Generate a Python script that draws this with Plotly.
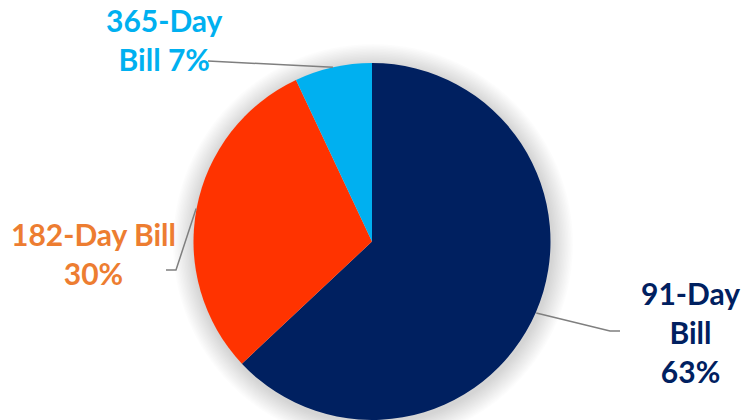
import math
import plotly.graph_objects as go

# ---- data ----
labels = ["91-Day Bill", "182-Day Bill", "365-Day Bill"]
values = [63, 30, 7]
slice_colors = ["#002060", "#FF3300", "#00B0F0"]
label_colors = ["#002060", "#ED7D31", "#00B0F0"]
label_lines = [["91-Day", "Bill"], ["182-Day Bill"], ["365-Day", "Bill"]]

W, H = 756, 420
cx, cy, R = 372, 242, 179  # pie centre/radius in pixels (layout)

fig = go.Figure()
fig.add_trace(go.Pie(
    labels=labels, values=values, sort=False, direction="clockwise", rotation=0,
    marker=dict(colors=slice_colors, line=dict(width=0)),
    textinfo="none", hoverinfo="label+percent", showlegend=False,
    domain=dict(x=[(cx - R) / W, (cx + R) / W], y=[max(0, (H - cy - R) / H), (H - cy + R) / H]),
))

def px(x):
    return x / W

def py(y):
    return 1 - y / H

shapes = []
# soft shadow around the pie
for i in range(14, 0, -1):
    r = R + i * 1.5
    shapes.append(dict(type="circle", xref="paper", yref="paper", layer="below",
                       x0=px(cx - r + 1), x1=px(cx + r + 1), y0=py(cy + r + 2), y1=py(cy - r + 2),
                       fillcolor="rgba(0,0,0,0.012)", line=dict(width=0)))

# label placement (layout): text centre, elbow point, text end of leader
label_pos = [(690, 332), (93, 253), (164, 39)]
elbows = [[(610, 331), (620, 331)], [(176, 270), (166, 270)], [(208, 61)]]

total = sum(values)
cum = 0
annotations = []
for i, v in enumerate(values):
    mid = (cum + v / 2) / total * 2 * math.pi
    cum += v
    ex = cx + R * math.sin(mid)
    ey = cy - R * math.cos(mid)
    pts = [(ex, ey)] + elbows[i]
    path = "M " + " L ".join(f"{px(x)},{py(y)}" for x, y in pts)
    shapes.append(dict(type="path", xref="paper", yref="paper", path=path,
                       line=dict(color="#7F7F7F", width=1.5)))
    pct = round(v / total * 100)
    lines = list(label_lines[i])
    if i == 2:
        lines[-1] = lines[-1] + f" {pct}%"
    else:
        lines.append(f"{pct}%")
    annotations.append(dict(
        x=px(label_pos[i][0]), y=py(label_pos[i][1]), xref="paper", yref="paper",
        text="<br>".join(lines), showarrow=False, xanchor="center", yanchor="middle",
        align="center", font=dict(family="Lato", size=30, color=label_colors[i], weight="bold"),
    ))

fig.update_layout(
    width=W, height=H, margin=dict(l=0, r=0, t=0, b=0),
    paper_bgcolor="white", plot_bgcolor="white",
    shapes=shapes, annotations=annotations,
)
fig.write_html("out.html", config={"displayModeBar": False},
               post_script="document.body.style.margin='0';")
